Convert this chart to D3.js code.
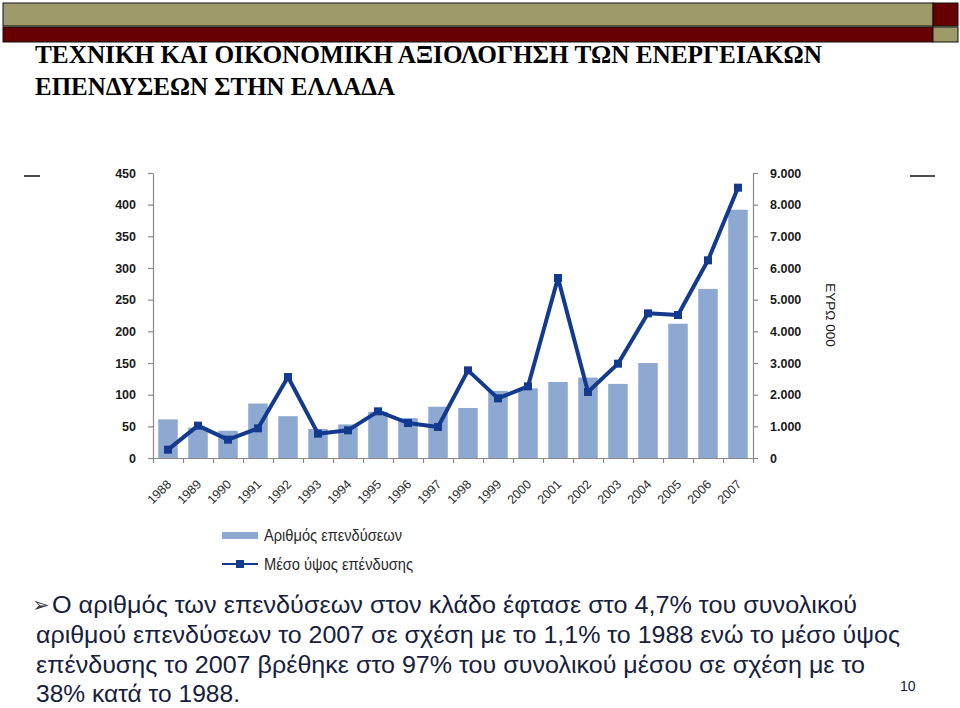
<!DOCTYPE html>
<html><head><meta charset="utf-8">
<script src="https://cdn.jsdelivr.net/npm/d3@7"></script>
<style>
html,body{margin:0;padding:0;background:#fff;}
svg{display:block;}
</style></head>
<body>
<svg id="c" width="960" height="708"></svg>
<script>
// ---- data ----
const years = ["1988","1989","1990","1991","1992","1993","1994","1995","1996","1997","1998","1999","2000","2001","2002","2003","2004","2005","2006","2007"];
const investmentsCount = [61,48,43,86,66,46,53,73,63,81,79,106,110,120,127,117,150,212,267,392];
const avgInvestment = [263,1021,579,937,2558,768,874,1474,1105,980,2768,1884,2263,5684,2084,2979,4568,4516,6242,8537];
const leftTicks = [0,50,100,150,200,250,300,350,400,450];
const rightTicks = [0,1000,2000,3000,4000,5000,6000,7000,8000,9000];
const rightTickLabels = ["0","1.000","2.000","3.000","4.000","5.000","6.000","7.000","8.000","9.000"];
const seriesNames = ["Αριθμός επενδύσεων","Μέσο ύψος επένδυσης"];
const rightAxisTitle = "ΕΥΡΩ 000";
const titleLines = ["ΤΕΧΝΙΚΗ ΚΑΙ ΟΙΚΟΝΟΜΙΚΗ ΑΞΙΟΛΟΓΗΣΗ ΤΩΝ ΕΝΕΡΓΕΙΑΚΩΝ","ΕΠΕΝΔΥΣΕΩΝ ΣΤΗΝ ΕΛΛΑΔΑ"];
const bodyLines = ["Ο αριθμός των επενδύσεων στον κλάδο έφτασε στο 4,7% του συνολικού",
 "αριθμού επενδύσεων το 2007 σε σχέση με το 1,1% το 1988 ενώ το μέσο ύψος",
 "επένδυσης το 2007 βρέθηκε στο 97% του συνολικού μέσου σε σχέση με το",
 "38% κατά το 1988."];
const pageNumber = "10";

const svg = d3.select("#c");
const barColor = "#8DA9D1", lineColor = "#143A8F", axisColor = "#8a8a8a";

// header bands
svg.append("rect").attr("x",3).attr("y",3).attr("width",930).attr("height",23).attr("fill","#9E9B6B").attr("stroke","#111").attr("stroke-width",1);
svg.append("rect").attr("x",933).attr("y",3).attr("width",25).attr("height",23).attr("fill","#660000").attr("stroke","#111").attr("stroke-width",1);
svg.append("rect").attr("x",3).attr("y",27).attr("width",930).attr("height",15).attr("fill","#660000").attr("stroke","#111").attr("stroke-width",1);
svg.append("rect").attr("x",933).attr("y",27).attr("width",25).attr("height",15).attr("fill","#9E9B6B").attr("stroke","#111").attr("stroke-width",1);

// title
const tl = [[35,63,787],[35,95,360]];
titleLines.forEach((t,i)=>{
  svg.append("text").attr("x",tl[i][0]).attr("y",tl[i][1])
    .attr("font-family","'Liberation Serif','Times New Roman',serif").attr("font-weight","bold")
    .attr("font-size",25).attr("fill","#000")
    .attr("textLength",tl[i][2]).attr("lengthAdjust","spacingAndGlyphs").text(t);
});

// small dashes
svg.append("line").attr("x1",24).attr("x2",40).attr("y1",176).attr("y2",176).attr("stroke","#111").attr("stroke-width",1.5);
svg.append("line").attr("x1",910).attr("x2",935).attr("y1",176).attr("y2",176).attr("stroke","#111").attr("stroke-width",1.5);

// scales
const x = d3.scaleBand().domain(years).range([153,753]).paddingInner(0.35).paddingOuter(0.175);
const yL = d3.scaleLinear().domain([0,450]).range([458,173]);
const yR = d3.scaleLinear().domain([0,9000]).range([458,173]);

const tickFont = "Arial,'Liberation Sans',sans-serif";

// bars
svg.append("g").selectAll("rect").data(investmentsCount).join("rect")
  .attr("x",(d,i)=>x(years[i])).attr("width",x.bandwidth())
  .attr("y",d=>yL(d)).attr("height",d=>yL(0)-yL(d)).attr("fill",barColor);

// axes
const gL = svg.append("g").attr("transform","translate(153,0)")
  .call(d3.axisLeft(yL).tickValues(leftTicks).tickSize(5).tickPadding(12).tickSizeOuter(0));
const gR = svg.append("g").attr("transform","translate(753,0)")
  .call(d3.axisRight(yR).tickValues(rightTicks).tickFormat((d,i)=>rightTickLabels[i]).tickSize(5).tickPadding(12).tickSizeOuter(0));
const bandEdges = years.map(y=>x(y)-x.step()*x.paddingInner()/2).concat([753]);
const xEdge = d3.scaleLinear().domain([153,753]).range([153,753]);
const gB = svg.append("g").attr("transform","translate(0,458)")
  .call(d3.axisBottom(xEdge).tickValues(bandEdges).tickSize(5).tickFormat("").tickSizeOuter(0));
[gL,gR,gB].forEach(g=>{
  g.selectAll("path,line").attr("stroke",axisColor).attr("stroke-width",1.2);
  g.selectAll("text").attr("font-family",tickFont).attr("font-size",12.5).attr("font-weight","bold").attr("fill","#1a1a1a");
});

// x labels
svg.append("g").selectAll("text").data(years).join("text")
  .attr("transform",d=>`translate(${x(d)+x.bandwidth()/2+1},482) rotate(-45)`)
  .attr("text-anchor","end").attr("dy","0.35em")
  .attr("font-family",tickFont).attr("font-size",12.5).attr("fill","#2a2a2a").text(d=>d);

// right axis title
svg.append("text").attr("transform","translate(831,315) rotate(90)").attr("text-anchor","middle").attr("dy","0.35em")
  .attr("font-family",tickFont).attr("font-size",13.5).attr("fill","#1a1a1a").text(rightAxisTitle);

// line
const line = d3.line().x((d,i)=>x(years[i])+x.bandwidth()/2).y(d=>yR(d));
svg.append("path").datum(avgInvestment).attr("d",line).attr("fill","none")
  .attr("stroke",lineColor).attr("stroke-width",4).attr("stroke-linejoin","round");
svg.append("g").selectAll("rect").data(avgInvestment).join("rect")
  .attr("x",(d,i)=>x(years[i])+x.bandwidth()/2-4).attr("y",d=>yR(d)-4)
  .attr("width",8).attr("height",8).attr("fill",lineColor);

// legend
const legFont = "'Liberation Sans Narrow','Arial Narrow',Arial,sans-serif";
svg.append("rect").attr("x",222).attr("y",532).attr("width",36).attr("height",7).attr("fill",barColor);
svg.append("text").attr("x",264).attr("y",535).attr("dy","0.35em").attr("font-family",legFont).attr("font-size",17)
  .attr("textLength",138).attr("lengthAdjust","spacingAndGlyphs").attr("fill","#2a2a2a").text(seriesNames[0]);
svg.append("line").attr("x1",222).attr("x2",258).attr("y1",564).attr("y2",564).attr("stroke",lineColor).attr("stroke-width",2);
svg.append("rect").attr("x",236).attr("y",560).attr("width",8).attr("height",8).attr("fill",lineColor);
svg.append("text").attr("x",264).attr("y",564).attr("dy","0.35em").attr("font-family",legFont).attr("font-size",17)
  .attr("textLength",149).attr("lengthAdjust","spacingAndGlyphs").attr("fill","#2a2a2a").text(seriesNames[1]);

// body text
const bodyFont = "Arial,'Liberation Sans',sans-serif";
const by = [613,643,673,702];
const bx = [52,36,36,36];
const bw = [805,864,829,204];
bodyLines.forEach((t,i)=>{
  const tx = svg.append("text").attr("y",by[i]).attr("font-family",bodyFont).attr("font-size",24.5).attr("fill","#17203d");
  if(i===0){
    tx.append("tspan").attr("x",32).attr("y",612).attr("font-family","'DejaVu Sans',sans-serif").attr("font-size",21)
      .attr("fill","#3a3f4f").text("➢");
  }
  tx.append("tspan").attr("x",bx[i]).attr("y",by[i])
    .attr("textLength",bw[i]).attr("lengthAdjust","spacingAndGlyphs").text(t);
});
svg.append("text").attr("x",900).attr("y",691).attr("font-family",bodyFont).attr("font-size",14).attr("fill","#17203d").text(pageNumber);
</script>
</body></html>
